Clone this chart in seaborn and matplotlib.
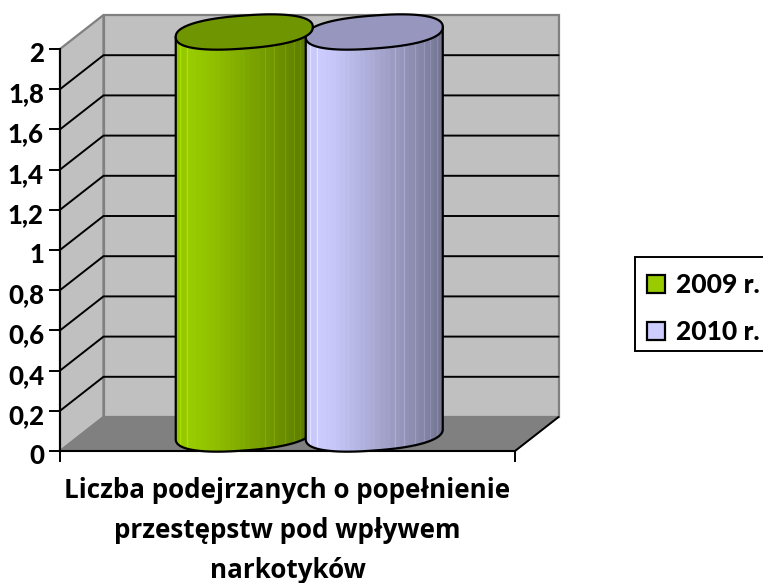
import numpy as np
import pandas as pd
import matplotlib
matplotlib.use("Agg")
import matplotlib.pyplot as plt
import seaborn as sns
from matplotlib.patches import Polygon, PathPatch, Rectangle
from matplotlib.path import Path
from matplotlib.colors import to_rgb
from matplotlib.transforms import ScaledTranslation

category = ["Liczba podejrzanych o popełnienie\nprzestępstw pod wpływem\nnarkotyków"]
years = ["2009 r.", "2010 r."]
values = [2, 2]
y_ticks = [0, 0.2, 0.4, 0.6, 0.8, 1, 1.2, 1.4, 1.6, 1.8, 2]
y_labels = ["0", "0,2", "0,4", "0,6", "0,8", "1", "1,2", "1,4", "1,6", "1,8", "2"]
colors = ["#99CC00", "#CCCCFF"]
lid_colors = ["#6F9500", "#9696BE"]

W, H = 763, 583
DX, DY = 43.5, 34   # depth of the 3D box in pixels
L, R, T, B = 60, 515, 49, 451

df = pd.DataFrame({"cat": category * 2, "year": years, "value": values})
sns.set_theme(style="white")
plt.rcParams["font.family"] = ["Lato", "DejaVu Sans"]
plt.rcParams["font.weight"] = "bold"

fig = plt.figure(figsize=(W / 100, H / 100), dpi=100)
ax = fig.add_axes([L / W, 1 - B / H, (R - L) / W, (B - T) / H])
sns.barplot(data=df, x="cat", y="value", hue="year", palette=colors, saturation=1,
            width=0.5714, gap=-0.054, ax=ax)
bars = [c[0] for c in ax.containers][:2]
ax.set_xlim(-0.5, 0.5)
ax.set_ylim(0, 2)
ax.set_xlabel("")
ax.set_ylabel("")

sx = 1.0 / (R - L)          # data units per pixel
sy = 2.0 / (B - T)
ddx, ddy = DX * sx, DY * sy

def box(pts, z, **kw):
    ax.add_patch(Polygon(pts, closed=True, clip_on=False, zorder=z, **kw))

x0, x1 = -0.5, 0.5
wall = "#C0C0C0"
edge = "#808080"
box([(x0, 0), (x0, 2), (x0 + ddx, 2 + ddy), (x0 + ddx, ddy)], 0.5, fc=wall, ec=edge, lw=1.6)
box([(x0 + ddx, ddy), (x0 + ddx, 2 + ddy), (x1 + ddx, 2 + ddy), (x1 + ddx, ddy)], 0.5, fc=wall, ec=edge, lw=1.6)
box([(x0, 0), (x1, 0), (x1 + ddx, ddy), (x0 + ddx, ddy)], 0.6, fc="#808080", ec=edge, lw=1.2)
ax.plot([x1, x1 + ddx], [0, ddy], color="black", lw=1.4, clip_on=False, zorder=0.7)
for t in y_ticks[1:-1]:
    ax.plot([x0, x0 + ddx, x1 + ddx], [t, t + ddy, t + ddy], color="black", lw=1.4,
            clip_on=False, zorder=0.8, solid_joinstyle="miter")

# Cylinders built from the bars that seaborn placed
A = 16.5 * sy
K = 5 * sy
P = 0.85

def ring(u):
    c, s = np.cos(u), np.sin(u)
    return np.sign(c) * np.abs(c) ** P, np.sign(s) * np.abs(s) ** P

t = np.linspace(0, 2 * np.pi, 181)
stops = np.array([0.97, 1.0, 0.98, 0.95, 0.91, 0.87, 0.83, 0.79, 0.75, 0.71, 0.67, 0.62, 0.57])
seams = [0.03, 0.085, 0.65, 0.72, 0.8, 0.86, 0.91, 0.96]
for i, bar in enumerate(bars):
    cx = bar.get_x() + bar.get_width() / 2 + ddx / 2
    a = bar.get_width() / 2
    y_b = ddy / 2
    y_t = bar.get_height() + ddy / 2
    bar.set_visible(False)
    tb = np.linspace(np.pi, 2 * np.pi, 91)
    c, s = ring(tb)
    xs = cx + a * c
    ys = y_b + A * s + K * c
    pts = [(cx - a, y_t - K)] + list(zip(xs, ys)) + [(cx + a, y_t + K)]
    path = Path(pts + [pts[0]], closed=True)
    z = 3 + i
    n = 28
    band = np.interp(np.linspace(0, 1, n), np.linspace(0, 1, len(stops)), stops)
    rgb = np.array(to_rgb(colors[i]))
    img = band[None, :, None] * rgb[None, None, :]
    im = ax.imshow(img, extent=(cx - a, cx + a, y_b - 2 * A, y_t + 2 * A), aspect="auto",
                   interpolation="nearest", zorder=z, origin="lower")
    im.set_clip_path(PathPatch(path, transform=ax.transData))
    im.set_clip_box(fig.bbox)
    for f in seams:
        sv = np.interp(f, np.linspace(0, 1, len(stops)), stops)
        sc = tuple(np.clip(sv * rgb * 1.12, 0, 1))
        ln, = ax.plot([cx - a + 2 * a * f] * 2, [y_b - 2 * A, y_t + 2 * A], color=sc, lw=0.9,
                      zorder=z + 0.05, clip_on=True)
        ln.set_clip_path(PathPatch(path, transform=ax.transData))
        ln.set_clip_box(fig.bbox)
    ax.add_patch(PathPatch(path, fc="none", ec="black", lw=1.6, zorder=z + 0.1, clip_on=False))
    ax.set_xlim(-0.5, 0.5)
    ax.set_ylim(0, 2)
for i, bar in enumerate(bars):
    cx = bar.get_x() + bar.get_width() / 2 + ddx / 2
    a = bar.get_width() / 2
    y_t = bar.get_height() + ddy / 2
    c, s = ring(t)
    lx = cx + a * c
    ly = y_t + A * s + K * c
    ax.add_patch(Polygon(np.c_[lx, ly], closed=True, fc=lid_colors[i], ec="black", lw=1.6,
                         zorder=7 - i, clip_on=False))

# Axes
for s_name in ["top", "right"]:
    ax.spines[s_name].set_visible(False)
for s_name in ["left", "bottom"]:
    ax.spines[s_name].set_color("black")
    ax.spines[s_name].set_linewidth(1.5)
    ax.spines[s_name].set_zorder(2)
ax.set_yticks(y_ticks, y_labels)
ax.tick_params(axis="y", length=8, width=1.4, color="black", left=True, pad=3.5,
               labelsize=18.5, labelcolor="black")
ax.set_xticks([0], category)
ax.tick_params(axis="x", which="major", length=0, pad=19, labelsize=18.7, labelcolor="black")
for lab in ax.get_xticklabels():
    lab.set_linespacing(1.62)
    lab.set_fontweight("bold")
    lab.set_family(["Open Sans", "DejaVu Sans"])
shift = ScaledTranslation(0, -3 / 100, fig.dpi_scale_trans)
for lab in ax.get_yticklabels():
    lab.set_fontweight("black")
    lab.set_transform(lab.get_transform() + shift)
ax.set_xticks([-0.5, 0.5], minor=True)
ax.tick_params(axis="x", which="minor", length=8, width=1.4, color="black", bottom=True)

# Legend
ax.add_patch(Rectangle((635 / W, 1 - 351 / H), 140 / W, 94 / H, transform=fig.transFigure,
                       fc="white", ec="black", lw=1.4, clip_on=False, zorder=9))
sns.move_legend(ax, "upper left", bbox_to_anchor=(647 / W, 1 - 273 / H), bbox_transform=fig.transFigure,
                title=None, frameon=False, fontsize=19, handlelength=0.68, handleheight=0.68,
                handletextpad=0.42, labelspacing=0.88, borderpad=0, borderaxespad=0)
leg = ax.get_legend()
leg.set_zorder(10)
for h in leg.legend_handles:
    h.set_edgecolor("black")
    h.set_linewidth(1.6)
    h.set_visible(True)
for txt in leg.get_texts():
    txt.set_color("black")
    txt.set_fontweight("black")

fig.savefig("out.png", dpi=100, facecolor="white")
